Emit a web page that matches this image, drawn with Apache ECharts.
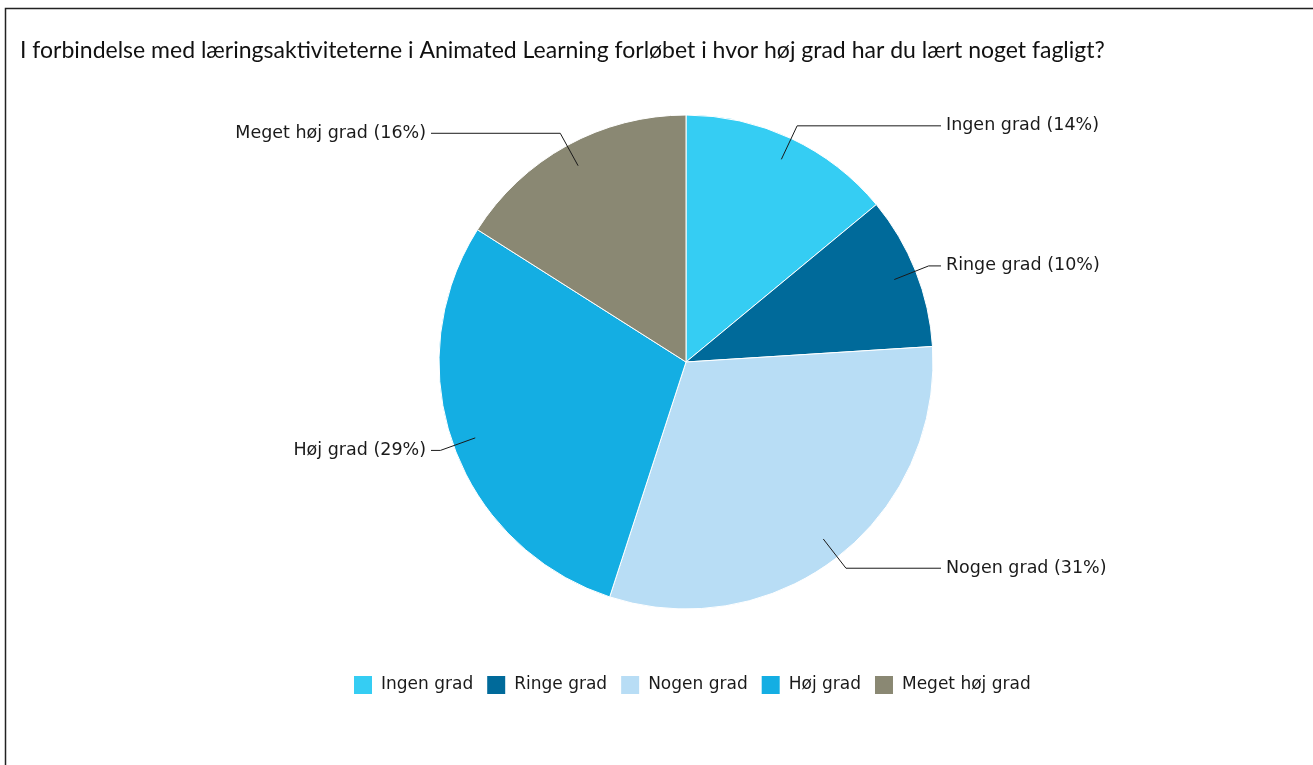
<!DOCTYPE html>
<html>
<head>
<meta charset="utf-8">
<script src="https://cdn.jsdelivr.net/npm/echarts@6/dist/echarts.min.js"></script>
<style>
  html, body { margin: 0; padding: 0; background: #fff; }
  #chart { width: 1313px; height: 765px; }
</style>
</head>
<body>
<div id="chart"></div>
<script>
// Survey answers: share of respondents per answer option (percent)
const titleText = 'I forbindelse med læringsaktiviteterne i Animated Learning forløbet i hvor høj grad har du lært noget fagligt?';
const categories = ['Ingen grad', 'Ringe grad', 'Nogen grad', 'Høj grad', 'Meget høj grad'];
const shares = [14, 10, 31, 29, 16];
const colors = ['#35CDF3', '#006A9A', '#B8DDF5', '#14AEE3', '#8A8873'];

const pieData = categories.map((name, i) => ({ name, value: shares[i] }));

const labelFont = 'DejaVu Sans, Verdana, sans-serif';
const center = [686, 362];
const calloutReach = 255;   // horizontal distance from centre to the end of each leader line

const chart = echarts.init(document.getElementById('chart'), null, { renderer: 'canvas' });

chart.setOption({
  animation: false,
  color: colors,
  title: {
    text: titleText,
    left: 20,
    top: 39,
    padding: 0,
    textStyle: {
      fontFamily: 'Lato, "Open Sans", sans-serif',
      fontSize: 23,
      fontWeight: 'normal',
      color: '#111'
    }
  },
  graphic: [{
    type: 'rect',
    silent: true,
    shape: { x: 5.5, y: 8.5, width: 1400, height: 900 },
    style: { fill: 'none', stroke: '#222', lineWidth: 1.5 }
  }],
  legend: {
    data: categories,
    left: 352,
    top: 674,
    padding: 0,
    icon: 'rect',
    itemWidth: 20,
    itemHeight: 20,
    itemGap: 12,
    selectedMode: false,
    textStyle: {
      fontFamily: labelFont,
      fontSize: 17,
      color: '#1a1a1a',
      padding: [0, 0, 0, 3]
    }
  },
  series: [
    {
      // the pie itself
      name: 'slices',
      type: 'pie',
      center: center,
      radius: 247,
      startAngle: 90,
      clockwise: true,
      silent: true,
      label: { show: false },
      labelLine: { show: false },
      itemStyle: { borderColor: '#ffffff', borderWidth: 1 },
      emphasis: { disabled: true },
      data: pieData
    },
    {
      // invisible inner ring that carries the callout labels,
      // so leader lines start inside each slice
      name: 'labels',
      type: 'pie',
      center: center,
      radius: 224,
      startAngle: 90,
      clockwise: true,
      silent: true,
      z: 3,
      itemStyle: { color: 'rgba(0,0,0,0)', borderWidth: 0 },
      emphasis: { disabled: true },
      label: {
        show: true,
        position: 'outside',
        alignTo: 'none',
        distanceToLabelLine: 5,
        formatter: '{b} ({c}%)',
        fontFamily: labelFont,
        fontSize: 17.5,
        color: '#1a1a1a'
      },
      labelLine: {
        show: true,
        length: 37,
        length2: 16,
        smooth: false,
        lineStyle: { color: '#1a1a1a', width: 1 }
      },
      // stretch every leader line's horizontal run to a common column on each side
      labelLayout: function (params) {
        const pts = params.labelLinePoints;
        if (!pts) return {};
        const right = pts[1][0] >= center[0];
        const endX = right ? center[0] + calloutReach : center[0] - calloutReach;
        const newPts = [pts[0].slice(), pts[1].slice(), [endX, pts[1][1]]];
        return {
          x: right ? endX + 5 : endX - 5,
          y: pts[1][1],
          align: right ? 'left' : 'right',
          verticalAlign: 'middle',
          labelLinePoints: newPts
        };
      },
      data: pieData
    }
  ]
});
</script>
</body>
</html>
